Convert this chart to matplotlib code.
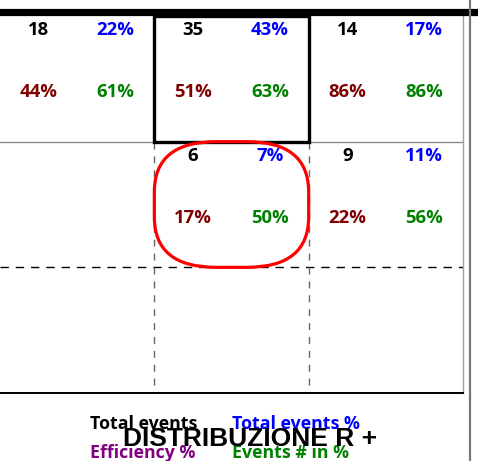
import matplotlib
matplotlib.use("Agg")
import matplotlib.pyplot as plt
from matplotlib.lines import Line2D
from matplotlib.patches import FancyBboxPatch, Rectangle

# grid cells, row by row (top to bottom), None = empty cell
total_events = [[18, 35, 14], [None, 6, 9], [None, None, None]]
total_pct = [[22, 43, 17], [None, 7, 11], [None, None, None]]
efficiency = [[44, 51, 86], [None, 17, 22], [None, None, None]]
events_in = [[61, 63, 86], [None, 50, 56], [None, None, None]]

legend_labels = ["Total events", "Total events %", "Efficiency %", "Events # in %"]
title = "DISTRIBUZIONE R +"

BLACK, BLUE, MAROON, GREEN, PURPLE = "#000000", "#0000FF", "#800000", "#008000", "#800080"
CELL_FONT = ["Open Sans", "DejaVu Sans"]

W, H = 478, 461
fig = plt.figure(figsize=(W / 100, H / 100), dpi=100)
ax = fig.add_axes([0, (H - 393) / H, 463 / W, (393 - 16) / H])
ax.set_xlim(0, 3)
ax.set_ylim(3, 0)
ax.set_xticks([])
ax.set_yticks([])
ax.spines["left"].set_visible(False)
ax.spines["top"].set_visible(False)
ax.spines["right"].set_color("#a0a0a0")
ax.spines["right"].set_linewidth(1.0)
ax.spines["bottom"].set_color("black")
ax.spines["bottom"].set_linewidth(1.4)

# inner grid
ax.axhline(1, color="#8a8a8a", lw=1.0, zorder=1)
ax.axhline(2, color="black", lw=1.0, ls=(0, (6, 5)), zorder=1)
ax.vlines([1, 2], 1, 3, color="#666666", lw=1.0, linestyles=(0, (5, 5)), zorder=1)

# highlighted cells
ax.add_patch(Rectangle((1, 0), 1, 1, fill=False, ec="black", lw=2.4, zorder=3))
ax.add_patch(FancyBboxPatch((1, 1), 1, 1, boxstyle="round,pad=0,rounding_size=0.4",
                            fill=False, ec="red", lw=2.3, zorder=3))

for r in range(3):
    for c in range(3):
        if total_events[r][c] is None:
            continue
        kw = dict(ha="center", va="center", fontsize=13.3, fontweight="bold",
                  family=CELL_FONT, zorder=4)
        ax.text(c + 0.25, r + 0.115, f"{total_events[r][c]}", color=BLACK, **kw)
        ax.text(c + 0.75, r + 0.115, f"{total_pct[r][c]}%", color=BLUE, **kw)
        ax.text(c + 0.25, r + 0.605, f"{efficiency[r][c]}%", color=MAROON, **kw)
        ax.text(c + 0.75, r + 0.605, f"{events_in[r][c]}%", color=GREEN, **kw)

# heavy rule across the top and outer frame line on the right
fig.add_artist(Line2D([0, 1], [1 - 12.5 / H, 1 - 12.5 / H], color="black", lw=5.2))
fig.add_artist(Line2D([469.5 / W, 469.5 / W], [0, 1], color="#777777", lw=1.6))

# legend block and title
leg_kw = dict(ha="left", va="center", fontsize=12.8, fontweight="bold", family=CELL_FONT)
fig.text(90 / W, 1 - 424 / H, legend_labels[0], color=BLACK, **leg_kw)
fig.text(232 / W, 1 - 424 / H, legend_labels[1], color=BLUE, **leg_kw)
fig.text(90 / W, 1 - 453 / H, legend_labels[2], color=PURPLE, **leg_kw)
fig.text(232 / W, 1 - 453 / H, legend_labels[3], color=GREEN, **leg_kw)
fig.text(250 / W, 1 - 439 / H, title, ha="center", va="center", fontsize=19,
         fontweight="bold", family="Liberation Sans", color="black")

fig.savefig("out.png", dpi=100)
